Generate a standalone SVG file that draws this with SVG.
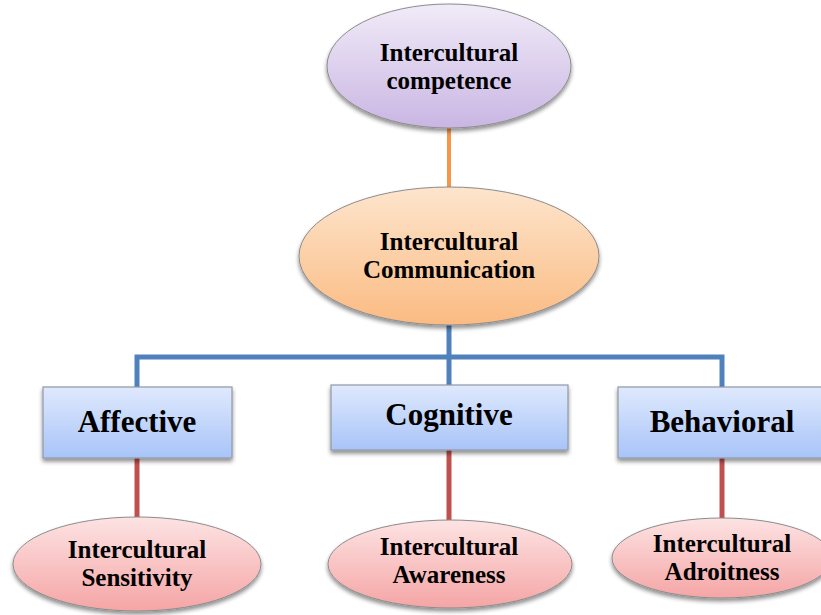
<svg xmlns="http://www.w3.org/2000/svg" width="821" height="615" viewBox="0 0 821 615">
  <style>
    .lbl { font-family: "Liberation Serif", "Times New Roman", serif; font-weight: bold; fill: #000; text-anchor: middle; }
    .oval { font-size: 25px; }
    .box { font-size: 31px; }
    .shape { stroke: #8c8c8c; stroke-width: 1; filter: url(#shadow); }
    .rect { stroke: #8f98a6; stroke-width: 1.2; filter: url(#shadow); }
    .link-top { stroke: #f79646; stroke-width: 4; fill: none; }
    .link-mid { stroke: #4f81bd; stroke-width: 5; fill: none; }
    .link-low { stroke: #c0504d; stroke-width: 5; fill: none; }
  </style>
  <defs>
    <filter id="shadow" x="-10%" y="-10%" width="120%" height="130%">
      <feGaussianBlur in="SourceAlpha" stdDeviation="2.2"/>
      <feOffset dx="0" dy="3" result="b"/>
      <feComponentTransfer><feFuncA type="linear" slope="0.45"/></feComponentTransfer>
      <feMerge><feMergeNode/><feMergeNode in="SourceGraphic"/></feMerge>
    </filter>
    <linearGradient id="gPurple" x1="0" y1="0" x2="0" y2="1">
      <stop offset="0" stop-color="#f1ebf8"/>
      <stop offset="1" stop-color="#c9b6e3"/>
    </linearGradient>
    <linearGradient id="gOrange" x1="0" y1="0" x2="0" y2="1">
      <stop offset="0" stop-color="#fde5cd"/>
      <stop offset="1" stop-color="#fbbb82"/>
    </linearGradient>
    <linearGradient id="gBlue" x1="0" y1="0" x2="0" y2="1">
      <stop offset="0" stop-color="#dfe9fd"/>
      <stop offset="1" stop-color="#a8c4f8"/>
    </linearGradient>
    <linearGradient id="gPink" x1="0" y1="0" x2="0" y2="1">
      <stop offset="0" stop-color="#fde3e3"/>
      <stop offset="1" stop-color="#f5a5a5"/>
    </linearGradient>
  </defs>

  <rect width="821" height="615" fill="#ffffff"/>

  <!-- connectors -->
  <g id="connectors">
    <line class="link-top" x1="449" y1="126" x2="449" y2="190"/>
    <path class="link-mid" d="M449,325 V357 M137,387 V357 H722 V387 M449,357 V385"/>
    <line class="link-low" x1="137" y1="458" x2="137" y2="519"/>
    <line class="link-low" x1="449" y1="450" x2="449" y2="521"/>
    <line class="link-low" x1="722" y1="458" x2="722" y2="520"/>
  </g>

  <g id="competence">
    <ellipse class="shape" cx="449" cy="66" rx="122" ry="62" fill="url(#gPurple)"/>
    <text class="lbl oval" x="449" y="61">Intercultural</text>
    <text class="lbl oval" x="449" y="89">competence</text>
  </g>

  <g id="communication">
    <ellipse class="shape" cx="449" cy="256" rx="150" ry="69" fill="url(#gOrange)"/>
    <text class="lbl oval" x="449" y="250">Intercultural</text>
    <text class="lbl oval" x="449" y="278">Communication</text>
  </g>

  <g id="affective">
    <rect class="rect" x="43" y="387" width="189" height="71" fill="url(#gBlue)"/>
    <text class="lbl box" x="137" y="432">Affective</text>
  </g>

  <g id="cognitive">
    <rect class="rect" x="331" y="385" width="237" height="65" fill="url(#gBlue)"/>
    <text class="lbl box" x="449" y="425">Cognitive</text>
  </g>

  <g id="behavioral">
    <rect class="rect" x="618" y="387" width="215" height="71" fill="url(#gBlue)"/>
    <text class="lbl box" x="722" y="432">Behavioral</text>
  </g>

  <g id="sensitivity">
    <ellipse class="shape" cx="137" cy="564" rx="124" ry="47" fill="url(#gPink)"/>
    <text class="lbl oval" x="137" y="558">Intercultural</text>
    <text class="lbl oval" x="137" y="586">Sensitivity</text>
  </g>

  <g id="awareness">
    <ellipse class="shape" cx="450" cy="564" rx="122" ry="44" fill="url(#gPink)"/>
    <text class="lbl oval" x="449" y="555">Intercultural</text>
    <text class="lbl oval" x="449" y="583">Awareness</text>
  </g>

  <g id="adroitness">
    <ellipse class="shape" cx="722" cy="558" rx="110" ry="40" fill="url(#gPink)"/>
    <text class="lbl oval" x="722" y="552">Intercultural</text>
    <text class="lbl oval" x="722" y="580">Adroitness</text>
  </g>
</svg>
